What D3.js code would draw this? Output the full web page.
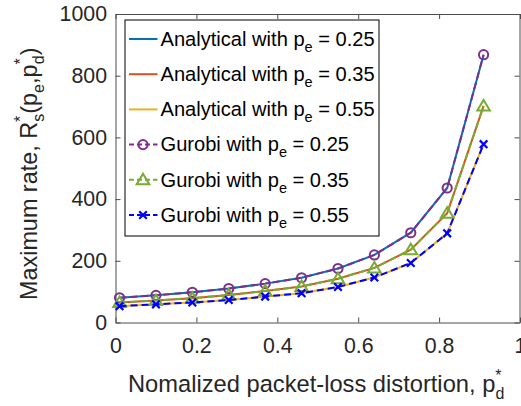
<!DOCTYPE html>
<html><head><meta charset="utf-8">
<script src="https://cdn.jsdelivr.net/npm/d3@7/dist/d3.min.js"></script>
<style>body{margin:0;background:#fff}svg{display:block}</style>
</head><body>
<svg id="chart" width="521" height="406"></svg>
<script>
// ---- data ----
const pd = [0.01, 0.10, 0.19, 0.28, 0.37, 0.46, 0.55, 0.64, 0.73, 0.82, 0.91];
const rate025 = [80, 88, 98, 110, 126, 145, 175, 219, 291, 436, 868];
const rate035 = [65, 71, 79, 89, 102, 117, 142, 177, 236, 354, 702];
const rate055 = [53, 59, 65, 73, 84, 95, 115, 146, 193, 289, 578];
const xTicks = [0, 0.2, 0.4, 0.6, 0.8, 1];
const yTicks = [0, 200, 400, 600, 800, 1000];
const peLabels = ["0.25", "0.35", "0.55"];

const FONT = "'Liberation Sans', Arial, Helvetica, sans-serif";
const svg = d3.select("#chart");
const x = d3.scaleLinear().domain([0, 1]).range([115.5, 520]);
const y = d3.scaleLinear().domain([0, 1000]).range([322.5, 14]);
const axisCol = "#262626";

// axes
const gB = svg.append("g").attr("transform", `translate(0,${y(0)})`)
  .call(d3.axisBottom(x).tickValues(xTicks).tickSizeInner(-5).tickSizeOuter(0).tickPadding(15)
        .tickFormat(d => String(d)));
const gT = svg.append("g").attr("transform", `translate(0,${y(1000)})`)
  .call(d3.axisTop(x).tickValues(xTicks).tickSizeInner(-5).tickSizeOuter(0).tickFormat(""));
const gL = svg.append("g").attr("transform", `translate(${x(0)},0)`)
  .call(d3.axisLeft(y).tickValues(yTicks).tickSizeInner(-5).tickSizeOuter(0).tickPadding(8.5)
        .tickFormat(d => String(d)));
const gR = svg.append("g").attr("transform", `translate(${x(1) - 0.5},0)`)
  .call(d3.axisRight(y).tickValues(yTicks).tickSizeInner(-5).tickSizeOuter(0).tickFormat(""));
[gB, gT, gL, gR].forEach(g => {
  g.selectAll("path.domain").attr("stroke", "#4d4d4d").attr("stroke-width", 1);
  g.selectAll(".tick line").attr("stroke", "#4d4d4d");
  g.selectAll("text").attr("font-family", FONT).attr("font-size", 21.3).attr("fill", axisCol);
});

// series
const series = [
  {vals: rate025, col: "#0072BD", dash: null, marker: null},
  {vals: rate035, col: "#D95319", dash: null, marker: null},
  {vals: rate055, col: "#EDB120", dash: null, marker: null},
  {vals: rate025, col: "#7E2F8E", dash: "7,4", marker: "circle"},
  {vals: rate035, col: "#77AC30", dash: "7,4", marker: "triangle"},
  {vals: rate055, col: "#0000FF", dash: "7,4", marker: "cross"}
];
const line = d3.line().x((d, i) => x(pd[i])).y(d => y(d));

function drawMarker(g, type, cx, cy, col) {
  if (type === "circle") {
    g.append("circle").attr("cx", cx).attr("cy", cy).attr("r", 4.6)
      .attr("fill", "none").attr("stroke", col).attr("stroke-width", 2);
  } else if (type === "triangle") {
    const s = 6;
    g.append("path").attr("d", `M${cx},${cy - s}L${cx + s * 1.05},${cy + s * 0.75}L${cx - s * 1.05},${cy + s * 0.75}Z`)
      .attr("fill", "none").attr("stroke", col).attr("stroke-width", 2);
  } else if (type === "cross") {
    const s = 3.8;
    g.append("path").attr("d", `M${cx - s},${cy - s}L${cx + s},${cy + s}M${cx - s},${cy + s}L${cx + s},${cy - s}`)
      .attr("stroke", col).attr("stroke-width", 2.2);
  }
}

const plot = svg.append("g");
series.forEach(s => {
  plot.append("path").datum(s.vals).attr("d", line)
    .attr("fill", "none").attr("stroke", s.col).attr("stroke-width", 2)
    .attr("stroke-dasharray", s.dash);
  if (s.marker) s.vals.forEach((v, i) => drawMarker(plot, s.marker, x(pd[i]), y(v), s.col));
});

// legend
const leg = svg.append("g");
leg.append("rect").attr("x", 125).attr("y", 20).attr("width", 254).attr("height", 216)
  .attr("fill", "#fff").attr("stroke", "#000").attr("stroke-width", 1);
const names = ["Analytical", "Analytical", "Analytical", "Gurobi", "Gurobi", "Gurobi"];
series.forEach((s, i) => {
  const cy = 39 + i * 35.2;
  leg.append("line").attr("x1", 129).attr("x2", 157.5).attr("y1", cy).attr("y2", cy)
    .attr("stroke", s.col).attr("stroke-width", 2).attr("stroke-dasharray", s.dash ? "5,3" : null);
  if (s.marker) drawMarker(leg, s.marker, 143, cy, s.col);
  const t = leg.append("text").attr("x", 160.5).attr("y", cy + 6.8)
    .attr("font-family", FONT).attr("font-size", 20.1).attr("fill", "#000");
  t.append("tspan").text(names[i] + " with p");
  t.append("tspan").attr("dy", 6).attr("font-size", 14.5).text("e");
  t.append("tspan").attr("dy", -6).text(" = " + peLabels[i % 3]);
});

// x label
const xl = svg.append("text").attr("x", 128).attr("y", 391.5)
  .attr("font-family", FONT).attr("font-size", 23.7).attr("fill", axisCol);
xl.append("tspan").text("Nomalized packet-loss distortion, p");
xl.append("tspan").attr("dy", -11).attr("font-size", 16).text("*");
xl.append("tspan").attr("dx", -6).attr("dy", 18).attr("font-size", 16).text("d");

// y label
const yl = svg.append("text").attr("transform", "translate(37,300) rotate(-90)")
  .attr("font-family", FONT).attr("font-size", 23.4).attr("fill", axisCol);
yl.append("tspan").text("Maximum rate, R");
yl.append("tspan").attr("dy", -11).attr("font-size", 16).text("*");
yl.append("tspan").attr("dx", -6).attr("dy", 18).attr("font-size", 16).text("s");
yl.append("tspan").attr("dy", -7).text("(p");
yl.append("tspan").attr("dy", 7).attr("font-size", 16).text("e");
yl.append("tspan").attr("dy", -7).text(",p");
yl.append("tspan").attr("dy", -11).attr("font-size", 16).text("*");
yl.append("tspan").attr("dx", -6).attr("dy", 18).attr("font-size", 16).text("d");
yl.append("tspan").attr("dy", -7).text(")");
</script>
</body></html>
